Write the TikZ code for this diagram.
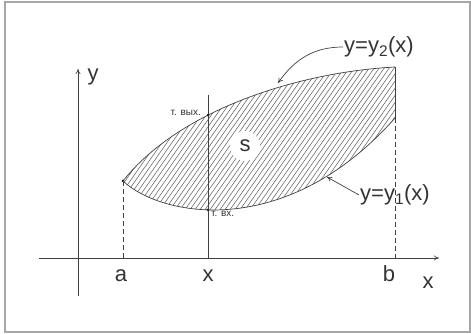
\documentclass[tikz,border=0pt]{standalone}
\usepackage{fontspec}
\setmainfont{Liberation Sans}
\usetikzlibrary{arrows.meta,intersections}
\begin{document}
\begin{tikzpicture}[x=1pt,y=1pt,
	  ln/.style={draw=black!75,line width=0.7pt},
	  hatch/.style={draw=black!65,line width=0.5pt},
	  lbl/.style={font=\fontsize{22}{24}\selectfont,text=black!80,inner sep=1pt},
	  small/.style={font=\fontsize{10}{11}\selectfont,text=black!80,inner sep=1pt},
	  dot/.style={fill=black!85,circle,inner sep=0pt,minimum size=3pt}]
	  \useasboundingbox (0,0) rectangle (471,334);
	  \draw [black!35,line width=1.2pt] (5,2) rectangle (470,332);
	  % points of the region
	  \coordinate (A) at (123,153);
	  \coordinate (Bt) at (395,267);
	  \coordinate (Bl) at (395,216);
	  \coordinate (xl) at (39,76);
	  \coordinate (xr) at (439,76);
	  \coordinate (yb) at (78,38);
	  \coordinate (yt) at (78,265);
	  \coordinate (vt) at (208,239);
	  \coordinate (vb) at (208,76);
	  % hatching
	  \begin{scope}
	  \clip (A) .. controls (180,225) and (300,262) .. (Bt) -- (Bl) .. controls (285,92) and (160,118) .. (A) -- cycle;
	  \foreach \i in {20,25,...,400}{
	  	\draw [hatch] (\i,110) -- ++(55:200);
	  }
	  \end{scope}
	  \node [lbl,fill=white,circle,minimum size=30pt] (s) at (245,188) {s};
	  % boundary
	  \draw [ln,name path=up] (A) .. controls (180,225) and (300,262) .. (Bt);
	  \draw [ln,name path=low] (A) .. controls (160,118) and (285,92) .. (Bl);
	  \draw [ln] (Bt) -- (Bl);
	  \draw [ln,name path=vx] (vt) -- (vb);
	  \path [name intersections={of=up and vx,by=U}];
	  \path [name intersections={of=low and vx,by=L}];
	  \node [dot] at (A) () {};
	  \node [dot] at (U) () {};
	  \node [dot] at (L) () {};
	  % axes
	  \draw [ln,-{To[length=5pt,width=5pt]}] (xl) -- (xr);
	  \draw [ln,-{To[length=5pt,width=5pt]}] (yb) -- (yt);
	  \draw [ln,dash pattern=on 5pt off 3pt] (A) -- (A |- xl);
	  \draw [ln,dash pattern=on 5pt off 3pt] (Bl) -- (Bl |- xl);
	  % labels
	  \node [lbl] (ly) at (93,257) {y};
	  \node [lbl] (lx) at (428,51) {x};
	  \node [lbl] (la) at (121,58) {a};
	  \node [lbl] (lxx) at (208,58) {x};
	  \node [lbl] (lb) at (389,60) {b};
	  \node [small,anchor=south east] (out) at ([xshift=-6pt,yshift=-2pt]U) {т. вых.};
	  \node [small,anchor=north west] (in) at ([xshift=2pt]L) {т. вх.};
	  \node [lbl] (y2) at (379,287) {y=y\textsubscript{2}(x)};
	  \node [lbl] (y1) at (395,139) {y=y\textsubscript{1}(x)};
	  \coordinate (t2) at (278,251);
	  \coordinate (t1) at (327,157);
	  \draw [ln,-{To[length=5pt,width=5pt]}] (y2.west) to [out=180,in=55] (t2);
	  \draw [ln,-{To[length=5pt,width=5pt]}] (y1.west) -- (t1);
\end{tikzpicture}
\end{document}
